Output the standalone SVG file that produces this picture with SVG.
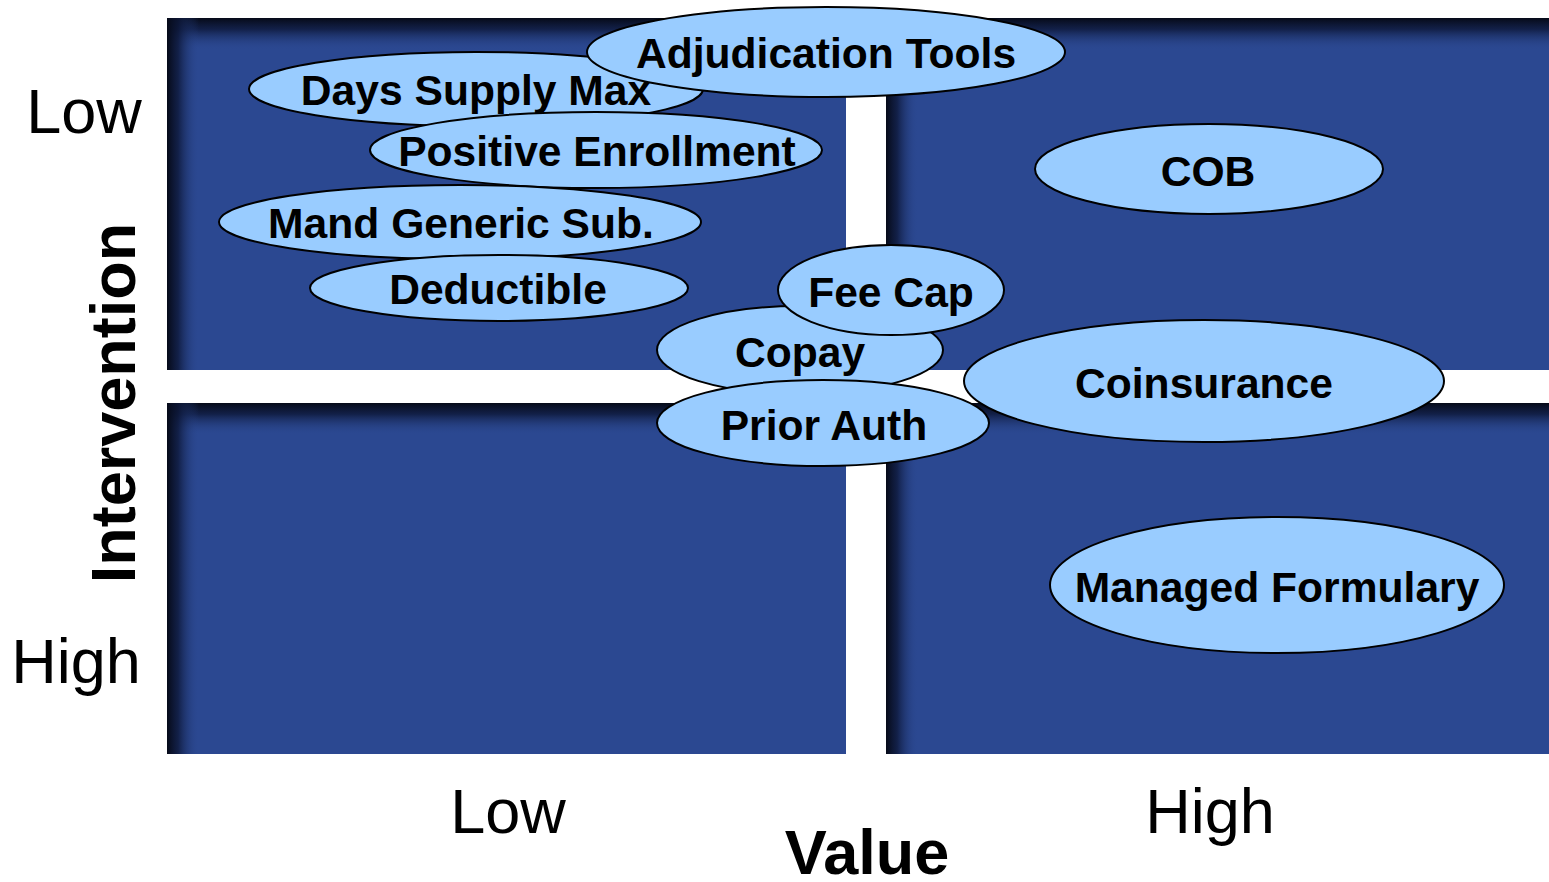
<svg xmlns="http://www.w3.org/2000/svg" width="1549" height="882" viewBox="0 0 1549 882">
<style>
.q{fill:#2B4891}
.e{fill:#99CCFF;stroke:#000;stroke-width:2}
.t{font-family:"Liberation Sans",Arial,sans-serif;font-weight:bold;font-size:42.6px;text-anchor:middle;fill:#000}
.ax{font-family:"Liberation Sans",Arial,sans-serif;font-size:63px;text-anchor:middle;fill:#000}
.axb{font-family:"Liberation Sans",Arial,sans-serif;font-size:63px;font-weight:bold;text-anchor:middle;fill:#000}
</style>
<defs>
<linearGradient id="gTop" x1="0" y1="0" x2="0" y2="1">
<stop offset="0" stop-color="#060a18" stop-opacity="1"/>
<stop offset="0.35" stop-color="#0c1636" stop-opacity="0.8"/>
<stop offset="1" stop-color="#2B4891" stop-opacity="0"/>
</linearGradient>
<linearGradient id="gLeft" x1="0" y1="0" x2="1" y2="0">
<stop offset="0" stop-color="#060a18" stop-opacity="1"/>
<stop offset="0.35" stop-color="#0c1636" stop-opacity="0.8"/>
<stop offset="1" stop-color="#2B4891" stop-opacity="0"/>
</linearGradient>
</defs>
<rect width="1549" height="882" fill="#fff"/>
<g id="quadrants">
<rect class="q" x="167" y="18" width="679" height="352"/>
<rect x="167" y="18" width="679" height="32" fill="url(#gTop)"/>
<rect x="167" y="18" width="32" height="352" fill="url(#gLeft)"/>
<rect class="q" x="886" y="18" width="663" height="352"/>
<rect x="886" y="18" width="663" height="32" fill="url(#gTop)"/>
<rect x="886" y="18" width="32" height="352" fill="url(#gLeft)"/>
<rect class="q" x="167" y="403" width="679" height="351"/>
<rect x="167" y="403" width="679" height="32" fill="url(#gTop)"/>
<rect x="167" y="403" width="32" height="351" fill="url(#gLeft)"/>
<rect class="q" x="886" y="403" width="663" height="351"/>
<rect x="886" y="403" width="663" height="32" fill="url(#gTop)"/>
<rect x="886" y="403" width="32" height="351" fill="url(#gLeft)"/>
</g>
<g id="axes">
<text class="ax" x="84" y="133">Low</text>
<text class="ax" x="76" y="683">High</text>
<text class="ax" x="508" y="833">Low</text>
<text class="ax" x="1210" y="833">High</text>
<text class="axb" x="867" y="874">Value</text>
<text class="axb" transform="translate(135,403) rotate(-90)" x="0" y="0">Intervention</text>
</g>
<g id="connectors"></g>
<g id="days-supply-max"><ellipse class="e" cx="476" cy="89" rx="227" ry="37"/><text class="t" x="476" y="105">Days Supply Max</text></g>
<g id="adjudication-tools"><ellipse class="e" cx="826" cy="52" rx="239" ry="45"/><text class="t" x="826" y="68">Adjudication Tools</text></g>
<g id="positive-enrollment"><ellipse class="e" cx="596" cy="150" rx="226" ry="38"/><text class="t" x="597" y="166">Positive Enrollment</text></g>
<g id="mand-generic-sub"><ellipse class="e" cx="460" cy="222" rx="241" ry="37"/><text class="t" x="461" y="238">Mand Generic Sub.</text></g>
<g id="deductible"><ellipse class="e" cx="499" cy="288" rx="189" ry="33"/><text class="t" x="498" y="304">Deductible</text></g>
<g id="copay"><ellipse class="e" cx="800" cy="350" rx="143" ry="44"/><text class="t" x="800" y="367">Copay</text></g>
<g id="fee-cap"><ellipse class="e" cx="891" cy="290" rx="113" ry="45"/><text class="t" x="891" y="307">Fee Cap</text></g>
<g id="prior-auth"><ellipse class="e" cx="823" cy="423" rx="166" ry="43"/><text class="t" x="824" y="440">Prior Auth</text></g>
<g id="cob"><ellipse class="e" cx="1209" cy="169" rx="174" ry="45"/><text class="t" x="1208" y="186">COB</text></g>
<g id="coinsurance"><ellipse class="e" cx="1204" cy="381" rx="240" ry="61"/><text class="t" x="1204" y="398">Coinsurance</text></g>
<g id="managed-formulary"><ellipse class="e" cx="1277" cy="585" rx="227" ry="68"/><text class="t" x="1277" y="602">Managed Formulary</text></g>
</svg>
